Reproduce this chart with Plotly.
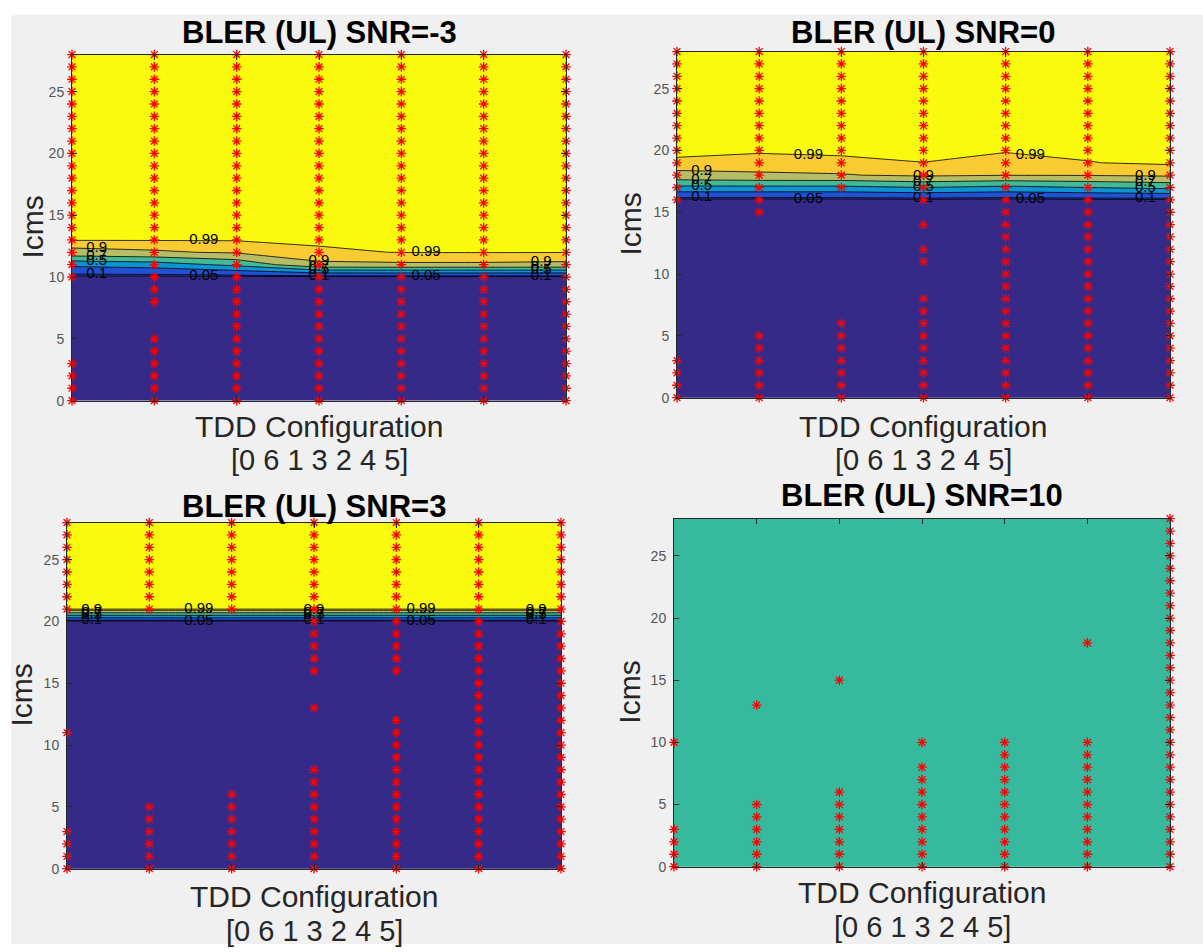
import plotly.graph_objects as go

# ---------------------------------------------------------------------------
# Data: BLER over TDD configuration (columns, ordered [0 6 1 3 2 4 5]) and Icms
# ---------------------------------------------------------------------------
COLUMNS = [1, 2, 3, 4, 5, 6, 7]
TDD_ORDER_LABEL = "[0 6 1 3 2 4 5]"
ICMS = [0, 1, 2, 3, 4, 5, 6, 7, 8, 9, 10, 11, 12, 13, 14, 15, 16, 17, 18, 19,
        20, 21, 22, 23, 24, 25, 26, 27, 28]
Y_TICKS = [0, 5, 10, 15, 20, 25]
LEVELS = [0.05, 0.1, 0.3, 0.5, 0.7, 0.9, 0.99]
TITLES = ["BLER (UL) SNR=-3", "BLER (UL) SNR=0", "BLER (UL) SNR=3", "BLER (UL) SNR=10"]

# BLER per TDD column, one value per Icms (0..28)
BLER_SNR_M3 = [
    [0, 0, 0, 0, 0, 0, 0, 0, 0, 0, 0.02, 0.35, 0.85, 0.995, 1, 1, 1, 1, 1, 1, 1, 1, 1, 1, 1, 1, 1, 1, 1],
    [0, 0, 0, 0, 0, 0, 0, 0, 0, 0, 0.02, 0.40, 0.88, 0.995, 1, 1, 1, 1, 1, 1, 1, 1, 1, 1, 1, 1, 1, 1, 1],
    [0, 0, 0, 0, 0, 0, 0, 0, 0, 0, 0.02, 0.55, 0.92, 0.995, 1, 1, 1, 1, 1, 1, 1, 1, 1, 1, 1, 1, 1, 1, 1],
    [0, 0, 0, 0, 0, 0, 0, 0, 0, 0, 0.02, 0.87, 0.98, 1, 1, 1, 1, 1, 1, 1, 1, 1, 1, 1, 1, 1, 1, 1, 1],
    [0, 0, 0, 0, 0, 0, 0, 0, 0, 0, 0.02, 0.88, 0.992, 1, 1, 1, 1, 1, 1, 1, 1, 1, 1, 1, 1, 1, 1, 1, 1],
    [0, 0, 0, 0, 0, 0, 0, 0, 0, 0, 0.02, 0.88, 0.993, 1, 1, 1, 1, 1, 1, 1, 1, 1, 1, 1, 1, 1, 1, 1, 1],
    [0, 0, 0, 0, 0, 0, 0, 0, 0, 0, 0.02, 0.87, 0.992, 1, 1, 1, 1, 1, 1, 1, 1, 1, 1, 1, 1, 1, 1, 1, 1],
]
BLER_SNR_0 = [
    [0, 0, 0, 0, 0, 0, 0, 0, 0, 0, 0, 0, 0, 0, 0, 0, 0.02, 0.45, 0.85, 0.982, 1, 1, 1, 1, 1, 1, 1, 1, 1],
    [0, 0, 0, 0, 0, 0, 0, 0, 0, 0, 0, 0, 0, 0, 0, 0, 0.02, 0.45, 0.88, 0.958, 1, 1, 1, 1, 1, 1, 1, 1, 1],
    [0, 0, 0, 0, 0, 0, 0, 0, 0, 0, 0, 0, 0, 0, 0, 0, 0.02, 0.45, 0.89, 0.977, 1, 1, 1, 1, 1, 1, 1, 1, 1],
    [0, 0, 0, 0, 0, 0, 0, 0, 0, 0, 0, 0, 0, 0, 0, 0, 0.03, 0.50, 0.93, 0.9895, 1, 1, 1, 1, 1, 1, 1, 1, 1],
    [0, 0, 0, 0, 0, 0, 0, 0, 0, 0, 0, 0, 0, 0, 0, 0, 0.02, 0.45, 0.905, 0.94, 1, 1, 1, 1, 1, 1, 1, 1, 1],
    [0, 0, 0, 0, 0, 0, 0, 0, 0, 0, 0, 0, 0, 0, 0, 0, 0.03, 0.50, 0.91, 0.988, 1, 1, 1, 1, 1, 1, 1, 1, 1],
    [0, 0, 0, 0, 0, 0, 0, 0, 0, 0, 0, 0, 0, 0, 0, 0, 0.03, 0.55, 0.93, 1, 1, 1, 1, 1, 1, 1, 1, 1, 1],
]
BLER_SNR_3 = [
    [0, 0, 0, 0, 0, 0, 0, 0, 0, 0, 0, 0, 0, 0, 0, 0, 0, 0, 0, 0, 0.01, 0.993, 1, 1, 1, 1, 1, 1, 1],
    [0, 0, 0, 0, 0, 0, 0, 0, 0, 0, 0, 0, 0, 0, 0, 0, 0, 0, 0, 0, 0.01, 0.993, 1, 1, 1, 1, 1, 1, 1],
    [0, 0, 0, 0, 0, 0, 0, 0, 0, 0, 0, 0, 0, 0, 0, 0, 0, 0, 0, 0, 0.01, 0.993, 1, 1, 1, 1, 1, 1, 1],
    [0, 0, 0, 0, 0, 0, 0, 0, 0, 0, 0, 0, 0, 0, 0, 0, 0, 0, 0, 0, 0.01, 0.992, 1, 1, 1, 1, 1, 1, 1],
    [0, 0, 0, 0, 0, 0, 0, 0, 0, 0, 0, 0, 0, 0, 0, 0, 0, 0, 0, 0, 0.01, 0.993, 1, 1, 1, 1, 1, 1, 1],
    [0, 0, 0, 0, 0, 0, 0, 0, 0, 0, 0, 0, 0, 0, 0, 0, 0, 0, 0, 0, 0.01, 0.993, 1, 1, 1, 1, 1, 1, 1],
    [0, 0, 0, 0, 0, 0, 0, 0, 0, 0, 0, 0, 0, 0, 0, 0, 0, 0, 0, 0, 0.01, 0.993, 1, 1, 1, 1, 1, 1, 1],
]
BLER_SNR_10 = [
    [0, 0, 0, 0, 0, 0, 0, 0, 0, 0, 0, 0, 0, 0, 0, 0, 0, 0, 0, 0, 0, 0, 0, 0, 0, 0, 0, 0, 0],
    [0, 0, 0, 0, 0, 0, 0, 0, 0, 0, 0, 0, 0, 0, 0, 0, 0, 0, 0, 0, 0, 0, 0, 0, 0, 0, 0, 0, 0],
    [0, 0, 0, 0, 0, 0, 0, 0, 0, 0, 0, 0, 0, 0, 0, 0, 0, 0, 0, 0, 0, 0, 0, 0, 0, 0, 0, 0, 0],
    [0, 0, 0, 0, 0, 0, 0, 0, 0, 0, 0, 0, 0, 0, 0, 0, 0, 0, 0, 0, 0, 0, 0, 0, 0, 0, 0, 0, 0],
    [0, 0, 0, 0, 0, 0, 0, 0, 0, 0, 0, 0, 0, 0, 0, 0, 0, 0, 0, 0, 0, 0, 0, 0, 0, 0, 0, 0, 0],
    [0, 0, 0, 0, 0, 0, 0, 0, 0, 0, 0, 0, 0, 0, 0, 0, 0, 0, 0, 0, 0, 0, 0, 0, 0, 0, 0, 0, 0],
    [0, 0, 0, 0, 0, 0, 0, 0, 0, 0, 0, 0, 0, 0, 0, 0, 0, 0, 0, 0, 0, 0, 0, 0, 0, 0, 0, 0, 0],
]

# Simulated (measured) Icms points per TDD column
ALL_ICMS = [0, 1, 2, 3, 4, 5, 6, 7, 8, 9, 10, 11, 12, 13, 14, 15, 16, 17, 18, 19,
            20, 21, 22, 23, 24, 25, 26, 27, 28]
MEAS_SNR_M3 = [
    [0, 1, 2, 3, 10, 11, 12, 13, 14, 15, 16, 17, 18, 19, 20, 21, 22, 23, 24, 25, 26, 27, 28],
    [0, 1, 2, 3, 4, 5, 8, 9, 10, 11, 12, 13, 14, 15, 16, 17, 18, 19, 20, 21, 22, 23, 24, 25, 26, 27, 28],
    ALL_ICMS, ALL_ICMS, ALL_ICMS, ALL_ICMS, ALL_ICMS,
]
MEAS_SNR_0 = [
    [0, 1, 2, 3, 16, 17, 18, 19, 20, 21, 22, 23, 24, 25, 26, 27, 28],
    [0, 1, 2, 3, 4, 5, 15, 16, 17, 18, 19, 20, 21, 22, 23, 24, 25, 26, 27, 28],
    [0, 1, 2, 3, 4, 5, 6, 17, 18, 19, 20, 21, 22, 23, 24, 25, 26, 27, 28],
    [0, 1, 2, 3, 4, 5, 6, 7, 8, 11, 12, 14, 16, 17, 18, 19, 20, 21, 22, 23, 24, 25, 26, 27, 28],
    ALL_ICMS, ALL_ICMS, ALL_ICMS,
]
MEAS_SNR_3 = [
    [0, 1, 2, 3, 11, 21, 22, 23, 24, 25, 26, 27, 28],
    [0, 1, 2, 3, 4, 5, 21, 22, 23, 24, 25, 26, 27, 28],
    [0, 1, 2, 3, 4, 5, 6, 21, 22, 23, 24, 25, 26, 27, 28],
    [0, 1, 2, 3, 4, 5, 6, 7, 8, 13, 16, 17, 18, 19, 20, 21, 22, 23, 24, 25, 26, 27, 28],
    [0, 1, 2, 3, 4, 5, 6, 7, 8, 9, 10, 11, 12, 16, 17, 18, 19, 20, 21, 22, 23, 24, 25, 26, 27, 28],
    ALL_ICMS, ALL_ICMS,
]
MEAS_SNR_10 = [
    [0, 1, 2, 3, 10],
    [0, 1, 2, 3, 4, 5, 13],
    [0, 1, 2, 3, 4, 5, 6, 15],
    [0, 1, 2, 3, 4, 5, 6, 7, 8, 10],
    [0, 1, 2, 3, 4, 5, 6, 7, 8, 9, 10],
    [0, 1, 2, 3, 4, 5, 6, 7, 8, 9, 10, 18],
    ALL_ICMS,
]

PANELS = [
    (TITLES[0], BLER_SNR_M3, MEAS_SNR_M3),
    (TITLES[1], BLER_SNR_0, MEAS_SNR_0),
    (TITLES[2], BLER_SNR_3, MEAS_SNR_3),
    (TITLES[3], BLER_SNR_10, MEAS_SNR_10),
]

# ---------------------------------------------------------------------------
# Styling (parula-like band colours, MATLAB-like figure look)
# ---------------------------------------------------------------------------
W, H = 1203, 952
FONT = "Liberation Sans, Arial, Helvetica, sans-serif"
PARULA_LOW = "#352a87"
PARULA_MID = "#37b99e"
BAND_COLORS = ["#353dad", "#2053d4", "#0c93d2", "#42ba98", "#b7bd64", "#f8cb33", "#f9fa0e"]
AXIS_COLOR = "#262626"

# where along the x axis the inline contour labels sit
INNER_LABEL_X = [1.3, 4.0, 6.7]     # labels of the inner lines
INNER_LEVELS = [0.1, 0.5, 0.7, 0.9]
OUTER_LABEL_X = [2.6, 5.3]          # labels of the 0.05 and 0.99 lines
OUTER_LEVELS = [0.05, 0.99]

# pixel boxes of the four axes: left, right, top, bottom
BOXES = [(72, 566, 55, 404), (677, 1170, 52, 401), (67, 561, 527, 876), (674, 1170, 523, 874)]
TITLE_CY = [33, 33, 511, 500]
XLABEL_CY = [(430, 464), (430, 464), (904, 939), (900, 935)]
YLABEL_CX = [33, 631, 22, 630]


def level_crossing(col_vals, lev):
    """Icms where a column's BLER profile crosses a contour level (linear)."""
    for r in range(len(ICMS) - 1):
        a, b = col_vals[r], col_vals[r + 1]
        if (a - lev) * (b - lev) <= 0 and a != b:
            return ICMS[r] + (lev - a) / (b - a) * (ICMS[r + 1] - ICMS[r])
    return None


def label_position(bler, lev, x):
    c0 = min(int(x), len(COLUMNS) - 1)
    c1 = min(c0 + 1, len(COLUMNS))
    f = x - c0
    y0 = level_crossing(bler[c0 - 1], lev)
    y1 = level_crossing(bler[c1 - 1], lev)
    return (1 - f) * y0 + f * y1


fig = go.Figure()
annotations = []

for i, (title, bler, meas) in enumerate(PANELS):
    n = i + 1
    xa = "x" if n == 1 else f"x{n}"
    ya = "y" if n == 1 else f"y{n}"
    z = [[bler[c][r] for c in range(len(COLUMNS))] for r in range(len(ICMS))]
    flat = [v for row in z for v in row]
    varying = max(flat) > min(flat)
    base = PARULA_LOW if varying else PARULA_MID

    # base layer
    fig.add_trace(go.Heatmap(
        x=COLUMNS, y=ICMS, z=z, colorscale=[[0, base], [1, base]],
        showscale=False, hoverinfo="skip", xaxis=xa, yaxis=ya))

    if varying:
        # filled bands: shade where BLER >= level
        for lev, col in zip(LEVELS, BAND_COLORS):
            fig.add_trace(go.Contour(
                x=COLUMNS, y=ICMS, z=z,
                contours=dict(type="constraint", operation="<", value=lev, showlines=False),
                fillcolor=col, line=dict(width=0, smoothing=0),
                showscale=False, hoverinfo="skip", xaxis=xa, yaxis=ya))
        # iso-lines
        for lev in LEVELS:
            fig.add_trace(go.Contour(
                x=COLUMNS, y=ICMS, z=z,
                contours=dict(type="constraint", operation="<", value=lev, showlines=True),
                fillcolor="rgba(0,0,0,0)", line=dict(color="black", width=0.8, smoothing=0),
                showscale=False, hoverinfo="skip", xaxis=xa, yaxis=ya))
        # inline labels
        lx, ly, lt = [], [], []
        for lev in LEVELS:
            if lev in OUTER_LEVELS:
                xs_for_level = OUTER_LABEL_X
            elif lev in INNER_LEVELS:
                xs_for_level = INNER_LABEL_X
            else:
                continue
            for x in xs_for_level:
                lx.append(x)
                ly.append(label_position(bler, lev, x))
                lt.append(f"{lev:g}")
        fig.add_trace(go.Scatter(
            x=lx, y=ly, text=lt, mode="text", textposition="middle center",
            textfont=dict(family=FONT, size=15, color="black"),
            hoverinfo="skip", showlegend=False, xaxis=xa, yaxis=ya))

    # measured points
    xs, ys = [], []
    for c, pts in zip(COLUMNS, meas):
        xs += [c] * len(pts)
        ys += list(pts)
    fig.add_trace(go.Scatter(
        x=xs, y=ys, mode="markers", cliponaxis=False, hoverinfo="skip", showlegend=False,
        marker=dict(symbol="asterisk-open", size=8, color="red", line=dict(color="red", width=1.3)),
        xaxis=xa, yaxis=ya))

    l, r, t, b = BOXES[i]
    key = "" if n == 1 else str(n)
    fig.layout[f"xaxis{key}"] = dict(
        domain=[l / W, r / W], range=[1, 7], anchor=ya,
        tickvals=COLUMNS, ticks="inside", ticklen=5, tickcolor=AXIS_COLOR,
        showticklabels=False, showline=True, linecolor=AXIS_COLOR, linewidth=1,
        mirror="ticks", showgrid=False, zeroline=False)
    fig.layout[f"yaxis{key}"] = dict(
        domain=[1 - b / H, 1 - t / H], range=[0, 28], anchor=xa,
        tickvals=Y_TICKS, ticks="inside", ticklen=5, tickcolor=AXIS_COLOR,
        tickfont=dict(family=FONT, size=14, color="#555555"), ticklabelstandoff=4,
        showline=True, linecolor=AXIS_COLOR, linewidth=1,
        mirror="ticks", showgrid=False, zeroline=False)

    cx = (l + r) / 2
    annotations.append(dict(
        text=f"<b>{title}</b>", x=cx / W, y=1 - TITLE_CY[i] / H, xref="paper", yref="paper",
        xanchor="center", yanchor="middle", showarrow=False,
        font=dict(family=FONT, size=31, color="black")))
    annotations.append(dict(
        text="TDD Configuration", x=cx / W, y=1 - XLABEL_CY[i][0] / H, xref="paper", yref="paper",
        xanchor="center", yanchor="middle", showarrow=False,
        font=dict(family=FONT, size=30, color=AXIS_COLOR)))
    annotations.append(dict(
        text=TDD_ORDER_LABEL, x=cx / W, y=1 - XLABEL_CY[i][1] / H, xref="paper", yref="paper",
        xanchor="center", yanchor="middle", showarrow=False,
        font=dict(family=FONT, size=29, color=AXIS_COLOR)))
    annotations.append(dict(
        text="Icms", x=YLABEL_CX[i] / W, y=1 - ((t + b) / 2) / H, xref="paper", yref="paper",
        xanchor="center", yanchor="middle", textangle=-90, showarrow=False,
        font=dict(family=FONT, size=30, color=AXIS_COLOR)))

fig.update_layout(
    width=W, height=H, margin=dict(l=0, r=0, t=0, b=0),
    paper_bgcolor="white", plot_bgcolor="rgba(0,0,0,0)",
    showlegend=False, annotations=annotations,
    font=dict(family=FONT),
    shapes=[dict(type="rect", xref="paper", yref="paper", x0=11 / W, x1=1, y0=0, y1=1 - 15 / H,
                 fillcolor="#f0f0f0", line=dict(width=0), layer="below")],
)

fig.write_html("out.html")
